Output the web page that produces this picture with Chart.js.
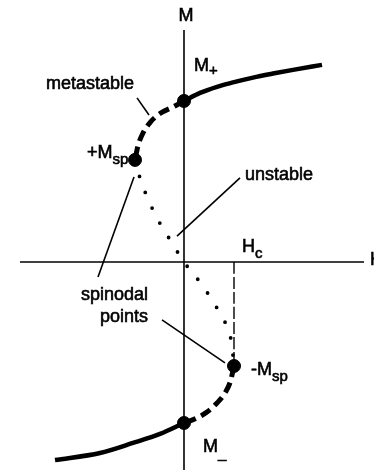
<!DOCTYPE html>
<html lang="en">
  <head>
    <meta charset="utf-8" />
    <title>Spinodal points</title>
    <style>
      * {
        margin: 0;
        padding: 0;
      }
      body {
        background: #fff;
      }
      .chartBox {
        width: 374px;
        height: 470px;
      }
    </style>
  </head>
  <body>
    <div class="chartBox">
      <canvas id="myChart" width="374" height="470"></canvas>
    </div>
    <script src="https://cdn.jsdelivr.net/npm/chart.js"></script>
    <script>
      // field H (Hc = 1) vs magnetisation M (M+ = 1), pairs of [H, M]
      const stableUpper = [[0, 1], [0.32, 1.05], [0.66, 1.088], [0.98, 1.115], [1.38, 1.145], [1.78, 1.17], [2.18, 1.193], [2.76, 1.224]];
      const stableLower = [[0, -1], [-0.48, -1.068], [-1.02, -1.124], [-1.68, -1.186], [-2.58, -1.23]];
      const metaUpper = [[0, 1], [-0.22, 0.963], [-0.48, 0.922], [-0.68, 0.866], [-0.82, 0.801], [-0.92, 0.722], [-0.98, 0.634]];
      const metaLower = [[1, -0.646], [0.93, -0.74], [0.82, -0.814], [0.66, -0.876], [0.46, -0.932], [0.24, -0.972], [0, -1]];
      const unstable = [[-0.98, 0.634], [-0.88, 0.522], [-0.6, 0.31], [-0.24, 0.118], [0, 0], [0.36, -0.143], [0.74, -0.335], [0.95, -0.5], [1, -0.646]];
      const spinodal = [[-0.98, 0.634], [1, -0.646]];
      const saturation = [[0, 1], [0, -1]];
      const coercive = [[1, 0], [1, -0.62]];
      const axisH = [[-3.28, 0], [3.6, 0]];
      const axisM = [[0, -1.4], [0, 1.441]];

      // labels: text, subscript, H, M, align
      const labels = [
        ["M", "", 0.04, 1.497, "center"],
        ["M", "+", 0.2, 1.186, "left"],
        ["metastable", "", -2.76, 1.072, "left"],
        ["+M", "sp", -1.94, 0.646, "left"],
        ["unstable", "", 1.22, 0.509, "left"],
        ["H", "c", 1.16, 0.062, "left"],
        ["spinodal", "", -0.72, -0.236, "right"],
        ["points", "", -0.72, -0.373, "right"],
        ["-M", "sp", 1.34, -0.702, "left"],
        ["M", "_", 0.38, -1.18, "left"],
        ["H", "", 3.72, -0.019, "left"]
      ];
      // pointer lines: [H1, M1, H2, M2]
      const pointers = [
        [-0.94, 1.019, -0.7, 0.913],
        [-1.0, 0.528, -1.72, -0.093],
        [-0.44, -0.36, 0.82, -0.627],
        [1.12, 0.522, -0.14, 0.16]
      ];

      const xy = (arr) => arr.map(([x, y]) => ({ x, y }));
      const FONT = '"Liberation Sans", Arial, sans-serif';

      function line(data, extra) {
        return Object.assign(
          {
            type: "line",
            data: xy(data),
            borderColor: "#000",
            borderWidth: 4,
            pointRadius: 0,
            cubicInterpolationMode: "monotone",
            fill: false
          },
          extra
        );
      }

      const annotationsPlugin = {
        id: "annotations",
        afterDatasetsDraw(chart) {
          const {
            ctx,
            scales: { x, y }
          } = chart;
          ctx.save();
          ctx.strokeStyle = "#000";
          ctx.lineWidth = 1.6;
          pointers.forEach(([h1, m1, h2, m2]) => {
            ctx.beginPath();
            ctx.moveTo(x.getPixelForValue(h1), y.getPixelForValue(m1));
            ctx.lineTo(x.getPixelForValue(h2), y.getPixelForValue(m2));
            ctx.stroke();
          });
          ctx.fillStyle = "#000";
          ctx.textBaseline = "alphabetic";
          ctx.lineWidth = 0.6;
          labels.forEach(([text, sub, h, m, align]) => {
            const px = x.getPixelForValue(h);
            const py = y.getPixelForValue(m);
            ctx.font = "18px " + FONT;
            const w = ctx.measureText(text).width;
            ctx.font = "15px " + FONT;
            const ws = sub ? ctx.measureText(sub).width : 0;
            let left = px;
            if (align === "center") left = px - (w + ws) / 2;
            if (align === "right") left = px - w - ws;
            ctx.textAlign = "left";
            ctx.font = "18px " + FONT;
            ctx.fillText(text, left, py);
            ctx.strokeText(text, left, py);
            if (sub) {
              ctx.font = "15px " + FONT;
              const dy = sub === "+" ? 4 : 6;
              ctx.fillText(sub, left + w, py + dy);
              ctx.strokeText(sub, left + w, py + dy);
            }
          });
          ctx.restore();
        }
      };

      const config = {
        type: "scatter",
        data: {
          datasets: [
            line(axisH, { borderWidth: 1.6 }),
            line(axisM, { borderWidth: 1.6 }),
            line(coercive, { borderWidth: 1.4, borderDash: [12, 3] }),
            line(stableUpper, { borderWidth: 4.5 }),
            line(stableLower, { borderWidth: 4.5 }),
            line(metaUpper, { borderWidth: 5, borderDash: [11, 6] }),
            line(metaLower, { borderWidth: 5, borderDash: [11, 6] }),
            line(unstable, {
              borderWidth: 3.8,
              borderDash: [0, 17],
              borderCapStyle: "round"
            }),
            {
              data: xy(saturation),
              pointRadius: 6.5,
              backgroundColor: "#000",
              borderColor: "#000"
            },
            {
              data: xy(spinodal),
              pointRadius: 6.5,
              backgroundColor: "#000",
              borderColor: "#000"
            }
          ]
        },
        options: {
          responsive: false,
          animation: false,
          layout: { padding: 0, autoPadding: false },
          plugins: {
            legend: { display: false },
            tooltip: { enabled: false }
          },
          scales: {
            x: { type: "linear", min: -3.68, max: 3.8, display: false },
            y: { type: "linear", min: -1.292, max: 1.627, display: false }
          }
        },
        plugins: [annotationsPlugin]
      };

      const myChart = new Chart(document.getElementById("myChart"), config);
    </script>
  </body>
</html>
